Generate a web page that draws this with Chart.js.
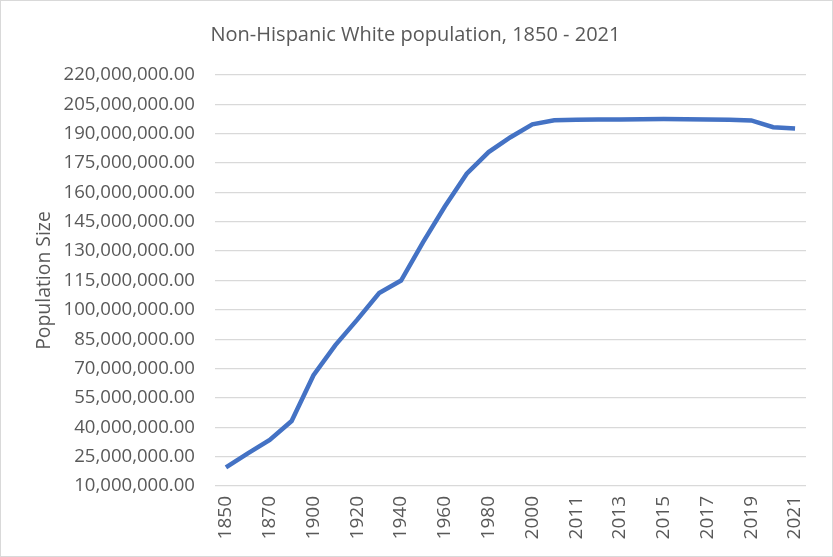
<!DOCTYPE html>
<html>
<head>
<meta charset="utf-8">
<script src="https://cdn.jsdelivr.net/npm/chart.js@4"></script>
<style>
  html, body { margin: 0; padding: 0; background: #ffffff; }
  #wrap { width: 833px; height: 557px; }
</style>
</head>
<body>
<div id="wrap"><canvas id="c" width="833" height="557"></canvas></div>
<script>
const categories = ["1850","1860","1870","1880","1900","1910","1920","1930","1940","1950","1960","1970","1980","1990","2000","2010","2011","2012","2013","2014","2015","2016","2017","2018","2019","2020","2021"];
const population = [19500000, 26700000, 33500000, 43200000, 66600000, 82000000, 95000000, 108600000, 115000000, 134500000, 152800000, 169600000, 180600000, 188200000, 194800000, 196900000, 197100000, 197200000, 197300000, 197400000, 197500000, 197400000, 197300000, 197100000, 196800000, 193300000, 192700000];
const yTicks = [10000000, 25000000, 40000000, 55000000, 70000000, 85000000, 100000000, 115000000, 130000000, 145000000, 160000000, 175000000, 190000000, 205000000, 220000000];

const FONT = "'Open Sans', sans-serif";
const TXT = "#595959";

const frame = {
  id: 'frame',
  beforeDraw(chart) {
    const ctx = chart.ctx;
    ctx.save();
    ctx.fillStyle = '#ffffff';
    ctx.fillRect(0, 0, chart.width, chart.height);
    ctx.strokeStyle = '#d9d9d9';
    ctx.lineWidth = 1;
    ctx.strokeRect(0.5, 0.5, chart.width - 1, chart.height - 1);
    ctx.restore();
  }
};

new Chart(document.getElementById('c'), {
  type: 'line',
  data: {
    labels: categories,
    datasets: [{
      label: 'Population',
      data: population,
      borderColor: '#4472C4',
      borderWidth: 4.5,
      pointRadius: 0,
      pointHoverRadius: 0,
      tension: 0,
      fill: false
    }]
  },
  options: {
    responsive: false,
    animation: false,
    devicePixelRatio: 1,
    layout: { padding: { left: 25, right: 27, top: 0, bottom: 8 } },
    plugins: {
      legend: { display: false },
      tooltip: { enabled: false },
      title: {
        display: true,
        text: 'Non-Hispanic White population, 1850 - 2021',
        color: TXT,
        font: { family: FONT, size: 20, weight: 'normal' },
        padding: { top: 23, bottom: 28 }
      }
    },
    scales: {
      x: {
        type: 'category',
        offset: true,
        grid: { display: false, drawTicks: false },
        border: { display: false },
        ticks: {
          autoSkip: false,
          maxRotation: 90,
          minRotation: 90,
          padding: 10,
          color: TXT,
          font: { family: FONT, size: 19 },
          callback: function(value, index) { return index % 2 === 0 ? categories[index] : ''; }
        },
        afterFit(scale) { scale.height = 557 - 486 - 8; }
      },
      y: {
        type: 'linear',
        min: 10000000,
        max: 220000000,
        afterBuildTicks(scale) { scale.ticks = yTicks.map(v => ({ value: v })); },
        grid: { color: '#d9d9d9', lineWidth: 1.3, drawTicks: false },
        border: { display: false },
        ticks: {
          padding: 20,
          color: TXT,
          font: { family: FONT, size: 18.6 },
          callback: v => Number(v).toLocaleString('en-US', { minimumFractionDigits: 2, maximumFractionDigits: 2 })
        },
        title: {
          display: true,
          text: 'Population Size',
          color: TXT,
          font: { family: FONT, size: 19.4 },
          padding: { top: 8, bottom: 0 }
        },
        afterFit(scale) { scale.width = 215 - 25; }
      }
    }
  },
  plugins: [frame]
});
</script>
</body>
</html>
